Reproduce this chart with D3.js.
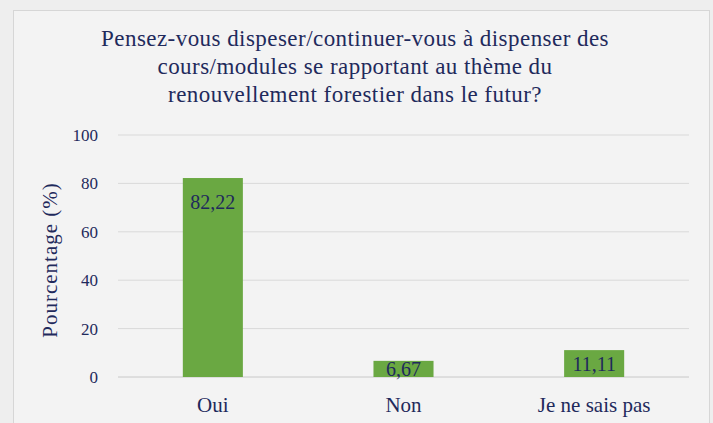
<!DOCTYPE html>
<html>
<head>
<meta charset="utf-8">
<title>Renouvellement forestier</title>
<script src="https://d3js.org/d3.v7.min.js"></script>
<style>
  body { margin: 0; background: #eeeeee; }
</style>
</head>
<body>
<div id="chart"></div>
<script>
// données
const categories = ["Oui", "Non", "Je ne sais pas"];
const values = [82.22, 6.67, 11.11];
const labels = ["82,22", "6,67", "11,11"];
const yTicks = [0, 20, 40, 60, 80, 100];
const titleLines = [
  "Pensez-vous dispeser/continuer-vous à dispenser des",
  "cours/modules se rapportant au thème du",
  "renouvellement forestier dans le futur?"
];

const W = 713, H = 423;
const ink = "#1f2a5c";
const font = "'Liberation Serif', 'DejaVu Serif', serif";
const margin = {top: 135, right: 24, bottom: 46, left: 118};
const w = W - margin.left - margin.right;
const h = H - margin.top - margin.bottom;

const svg = d3.select("#chart").append("svg")
  .attr("width", W).attr("height", H);

// fond + cadre
svg.append("rect").attr("width", W).attr("height", H).attr("fill", "#eeeeee");
svg.append("rect")
  .attr("x", 13.5).attr("y", 10.5).attr("width", 696).attr("height", 430)
  .attr("fill", "#f3f3f3").attr("stroke", "#d6d6d6");

// titre
svg.append("text")
  .attr("text-anchor", "middle")
  .attr("font-family", font).attr("font-size", "23px").attr("fill", ink)
  .attr("letter-spacing", "0.45px")
  .selectAll("tspan").data(titleLines).enter().append("tspan")
  .attr("x", 355).attr("y", (d, i) => 46 + i * 28)
  .text(d => d);

const g = svg.append("g").attr("transform", "translate(" + margin.left + "," + margin.top + ")");

const x = d3.scaleBand().domain(categories).range([0, w]).paddingInner(0.685).paddingOuter(0.34);
const y = d3.scaleLinear().domain([0, 100]).range([h, 0]);

// grille
g.selectAll(".grid").data(yTicks).enter().append("line")
  .attr("x1", 0).attr("x2", w)
  .attr("y1", d => y(d)).attr("y2", d => y(d))
  .attr("stroke", d => d === 0 ? "#c8c8c8" : "#d9d9d9").attr("stroke-width", 1);

// axe y
const yAxis = d3.axisLeft(y).tickValues(yTicks).tickSize(0).tickPadding(20);
g.append("g").call(yAxis)
  .call(s => s.select(".domain").remove())
  .selectAll("text")
  .attr("font-family", font).attr("font-size", "17px").attr("fill", ink);

// barres
g.selectAll(".bar").data(values).enter().append("rect")
  .attr("x", (d, i) => x(categories[i]))
  .attr("y", d => y(d))
  .attr("width", x.bandwidth())
  .attr("height", d => h - y(d))
  .attr("fill", "#6aa842");

// étiquettes de données
g.selectAll(".lbl").data(values).enter().append("text")
  .attr("x", (d, i) => x(categories[i]) + x.bandwidth() / 2)
  .attr("y", d => Math.min(y(d) + 24, (y(d) + h) / 2) + 7)
  .attr("text-anchor", "middle")
  .attr("font-family", font).attr("font-size", "20px").attr("fill", ink)
  .text((d, i) => labels[i]);

// axe x
const xAxis = d3.axisBottom(x).tickSize(0).tickPadding(20);
g.append("g").attr("transform", "translate(0," + h + ")").call(xAxis)
  .call(s => s.select(".domain").remove())
  .selectAll("text")
  .attr("font-family", font).attr("font-size", "21px").attr("fill", ink);

// titre axe y
svg.append("text")
  .attr("transform", "translate(57," + (margin.top + h / 2 + 4) + ") rotate(-90)")
  .attr("text-anchor", "middle")
  .attr("font-family", font).attr("font-size", "21px").attr("fill", ink)
  .attr("letter-spacing", "1px")
  .text("Pourcentage (%)");
</script>
</body>
</html>
